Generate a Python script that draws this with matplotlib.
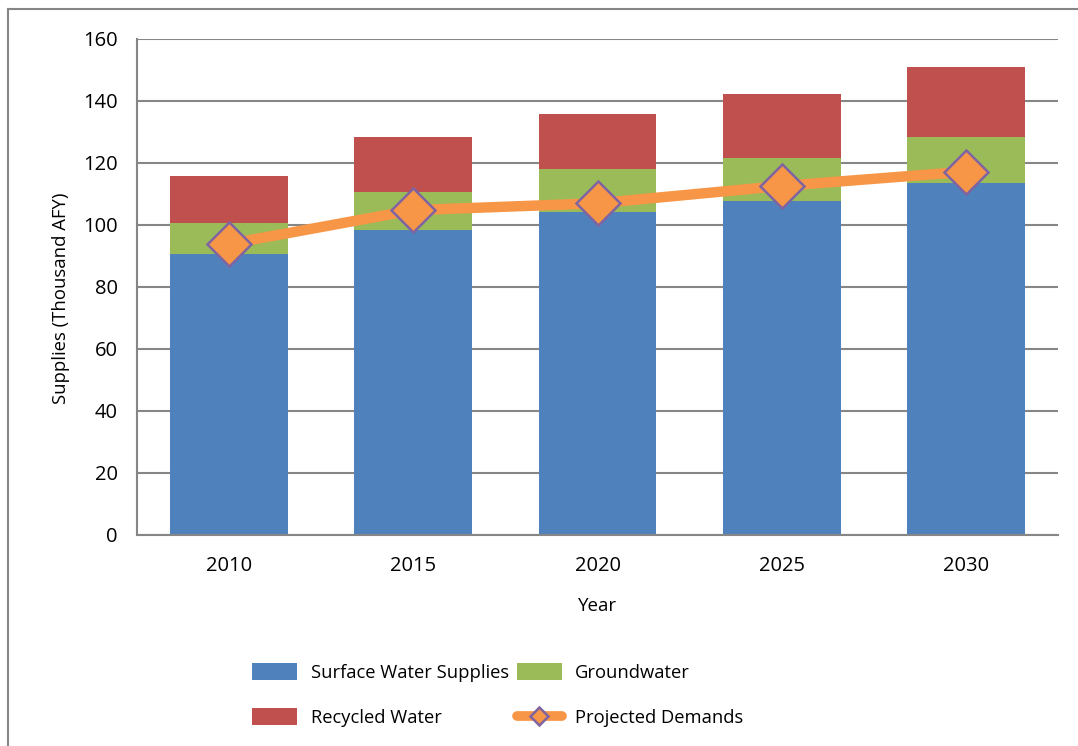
import matplotlib.pyplot as plt
from matplotlib.lines import Line2D
import numpy as np

# values (thousand AFY)
years = ['2010', '2015', '2020', '2025', '2030']
surface = [90.5, 98.4, 104.3, 107.7, 113.5]
groundwater = [10.0, 12.3, 13.7, 14.0, 15.0]
recycled = [15.3, 17.7, 17.7, 20.5, 22.5]
demand = [93.9, 104.8, 107.0, 112.6, 117.2]

plt.rcParams['font.family'] = ['Open Sans', 'DejaVu Sans']

fig = plt.figure(figsize=(10.78, 7.46), dpi=100)
ax = fig.add_axes([137/1078, 1 - 535/746, (1058-137)/1078, (535-39)/746])

x = np.arange(len(years))
w = 0.64
b1 = ax.bar(x, surface, w, color='#4F81BD', label='Surface Water Supplies', zorder=2)
gw_bottom = np.array(surface)
b2 = ax.bar(x, groundwater, w, bottom=gw_bottom, color='#9BBB59', label='Groundwater', zorder=2)
rw_bottom = gw_bottom + np.array(groundwater)
b3 = ax.bar(x, recycled, w, bottom=rw_bottom, color='#C0504D', label='Recycled Water', zorder=2)
ln, = ax.plot(x, demand, color='#F79646', lw=7.5, marker='D', ms=22,
              mfc='#F79646', mec='#8064A2', mew=1.8, label='Projected Demands', zorder=3)

ax.set_xlim(-0.5, 4.5)
ax.set_ylim(0, 160)
ax.set_yticks(range(0, 161, 20))
ax.set_xticks(x)
ax.set_xticklabels(years)
ax.tick_params(length=0, labelsize=14.5)
ax.tick_params(axis='x', pad=15)
ax.tick_params(axis='y', pad=14)
ax.yaxis.grid(True, color='#868686', lw=1.5, zorder=0)
ax.set_axisbelow(True)
for s in ['top', 'right']:
    ax.spines[s].set_visible(False)
for s in ['left', 'bottom']:
    ax.spines[s].set_color('#868686')
    ax.spines[s].set_linewidth(1.5)
ax.set_xlabel('Year', fontsize=13.5, labelpad=15)
ax.set_ylabel('Supplies (Thousand AFY)', fontsize=13.3)
ax.yaxis.set_label_coords(-0.073, 0.478)

leg_line = Line2D([], [], color='#F79646', lw=7, solid_capstyle='round', marker='D', ms=9,
                  mfc='#F79646', mec='#8064A2', mew=1.8)
fig.legend([b1, b3, b2, leg_line],
           ['Surface Water Supplies', 'Recycled Water', 'Groundwater', 'Projected Demands'],
           ncol=2, loc='center', bbox_to_anchor=(498/1078, 1 - 695/746), frameon=False,
           fontsize=13.2, handlelength=2.45, handleheight=1.0, columnspacing=0.4,
           labelspacing=1.45, handletextpad=0.75)

# outer chart border (top and left visible)
fig.add_artist(Line2D([8/1078, 8/1078], [0, 1 - 9/746], transform=fig.transFigure, color='#868686', lw=1.5))
fig.add_artist(Line2D([8/1078, 1], [1 - 9/746, 1 - 9/746], transform=fig.transFigure, color='#868686', lw=1.5))

fig.savefig('out.png', dpi=100)
